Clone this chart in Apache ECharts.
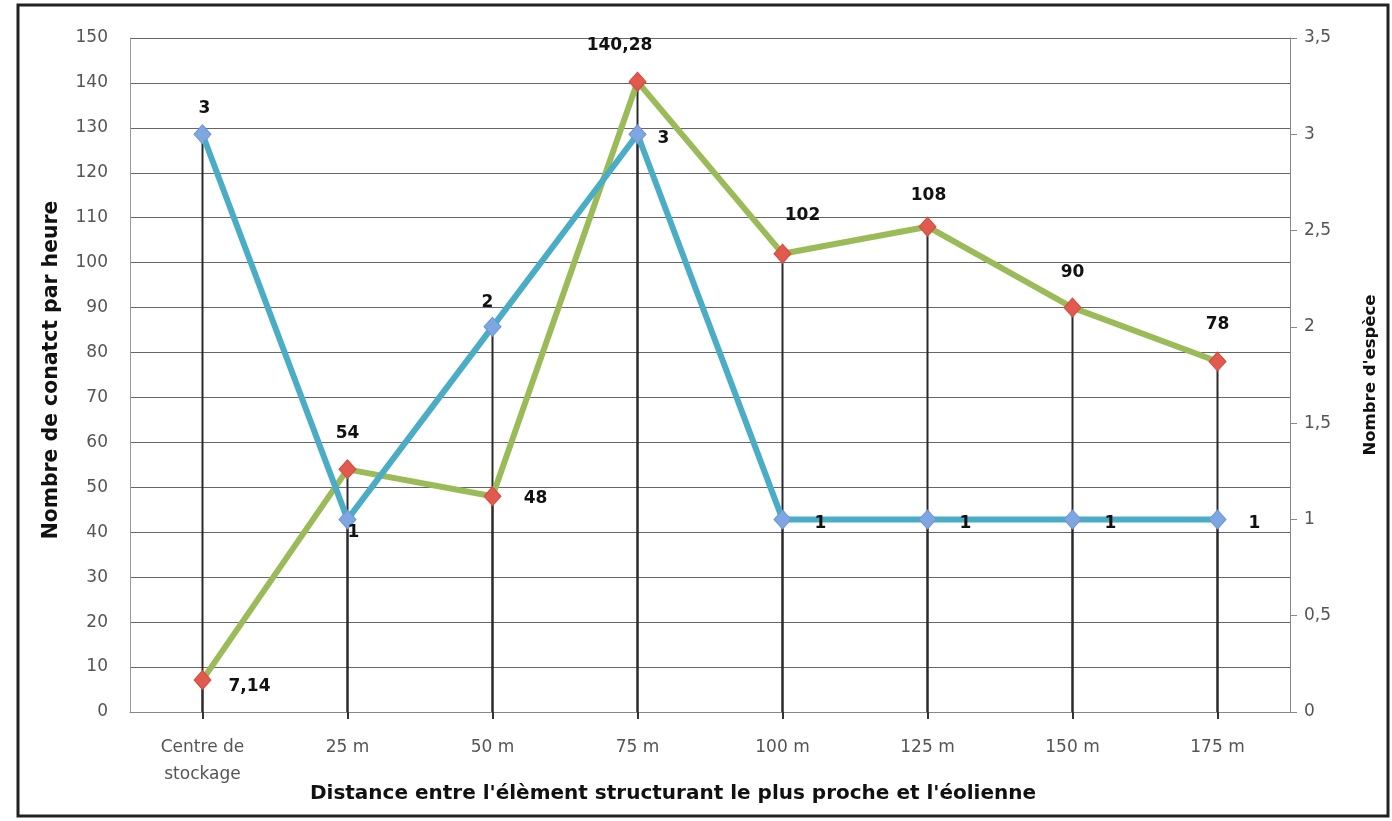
<!DOCTYPE html>
<html>
<head>
<meta charset="utf-8">
<script src="https://cdn.jsdelivr.net/npm/echarts@6/dist/echarts.min.js"></script>
<style>
html,body{margin:0;padding:0;background:#fff;}
#chart{width:1392px;height:821px;}
</style>
</head>
<body>
<div id="chart"></div>
<script>
// ---- data ----
const categories = ['Centre de\nstockage', '25 m', '50 m', '75 m', '100 m', '125 m', '150 m', '175 m'];
const contactsPerHour = [7.14, 54, 48, 140.28, 102, 108, 90, 78];
const speciesCount = [3, 1, 2, 3, 1, 1, 1, 1];
const xTitle = "Distance entre l'élèment structurant le plus proche et l'éolienne";
const leftTitle = 'Nombre de conatct par heure';
const rightTitle = "Nombre d'espèce";

// ---- label placement (styling, not data) ----
const contactLabelOffsets = [[47, 7], [0, -36], [43, 2], [-18, -36], [20, -38], [1, -31], [0, -35], [0, -37]];
const speciesLabelOffsets = [[2, -26], [6, 13], [-5, -24], [26, 4], [38, 4], [38, 4], [38, 4], [37, 4]];

const comma = v => String(v).replace('.', ',');
const FONT = 'DejaVu Sans';

const labelStyle = {
  show: true, position: 'inside', fontFamily: FONT, fontWeight: 'bold',
  fontSize: 17, color: '#111', formatter: p => comma(p.value)
};

const chart = echarts.init(document.getElementById('chart'), null, {renderer: 'canvas'});
chart.setOption({
  animation: false,
  backgroundColor: '#fff',
  graphic: [{
    type: 'rect', z: 100, silent: true,
    shape: {x: 18, y: 5, width: 1370, height: 811},
    style: {fill: 'none', stroke: '#222', lineWidth: 3}
  }],
  grid: {left: 130, right: 102, top: 38, bottom: 109, containLabel: false},
  xAxis: {
    type: 'category',
    data: categories,
    boundaryGap: true,
    name: xTitle,
    nameLocation: 'middle',
    nameGap: 72,
    nameMoveOverlap: false,
    nameTextStyle: {fontFamily: FONT, fontWeight: 'bold', fontSize: 20, color: '#111', padding: [0, 74, 0, 0]},
    axisLine: {show: true, lineStyle: {color: '#888', width: 1}},
    axisTick: {show: true, alignWithLabel: true, length: 7, lineStyle: {color: '#333', width: 2}},
    axisLabel: {fontFamily: FONT, fontSize: 17, color: '#555', margin: 22, lineHeight: 27, interval: 0},
    splitLine: {show: false}
  },
  yAxis: [{
    type: 'value', min: 0, max: 150, interval: 10,
    name: leftTitle, nameLocation: 'middle', nameGap: 68, nameRotate: 90,
    nameTextStyle: {fontFamily: FONT, fontWeight: 'bold', fontSize: 20.4, color: '#111', padding: [0, 0, 0, 10]},
    axisLine: {show: true, lineStyle: {color: '#999'}},
    axisTick: {show: false},
    axisLabel: {fontFamily: FONT, fontSize: 17, color: '#555', margin: 22},
    splitLine: {show: true, lineStyle: {color: '#666', width: 1}}
  }, {
    type: 'value', min: 0, max: 3.5, interval: 0.5,
    name: rightTitle, nameLocation: 'middle', nameGap: 72, nameRotate: 90,
    nameTextStyle: {fontFamily: FONT, fontWeight: 'bold', fontSize: 16.5, color: '#111'},
    axisLine: {show: true, lineStyle: {color: '#888'}},
    axisTick: {show: true, inside: false, length: 7, lineStyle: {color: '#888'}},
    axisLabel: {fontFamily: FONT, fontSize: 17, color: '#555', margin: 14, formatter: v => comma(v)},
    splitLine: {show: false}
  }],
  series: [{
    name: 'drop-contacts', type: 'bar', yAxisIndex: 0, data: contactsPerHour,
    barWidth: 2, barGap: '-100%', silent: true, z: 1,
    itemStyle: {color: '#2a2a2a'}
  }, {
    name: 'drop-species', type: 'bar', yAxisIndex: 1, data: speciesCount,
    barWidth: 2, barGap: '-100%', silent: true, z: 1,
    itemStyle: {color: '#2a2a2a'}
  }, {
    name: 'contacts', type: 'line', yAxisIndex: 0, z: 3,
    data: contactsPerHour.map((v, i) => ({value: v, label: {offset: contactLabelOffsets[i]}})),
    lineStyle: {color: '#9bbb59', width: 6},
    symbol: 'diamond', symbolSize: [17, 19],
    itemStyle: {color: '#e05a4e', borderColor: '#d44a3e', borderWidth: 1},
    label: labelStyle
  }, {
    name: 'species', type: 'line', yAxisIndex: 1, z: 4,
    data: speciesCount.map((v, i) => ({value: v, label: {offset: speciesLabelOffsets[i]}})),
    lineStyle: {color: '#4bacc6', width: 6},
    symbol: 'diamond', symbolSize: [17, 19],
    itemStyle: {color: '#7ea7e2', borderColor: '#6b95d6', borderWidth: 1},
    label: labelStyle
  }]
});
</script>
</body>
</html>
